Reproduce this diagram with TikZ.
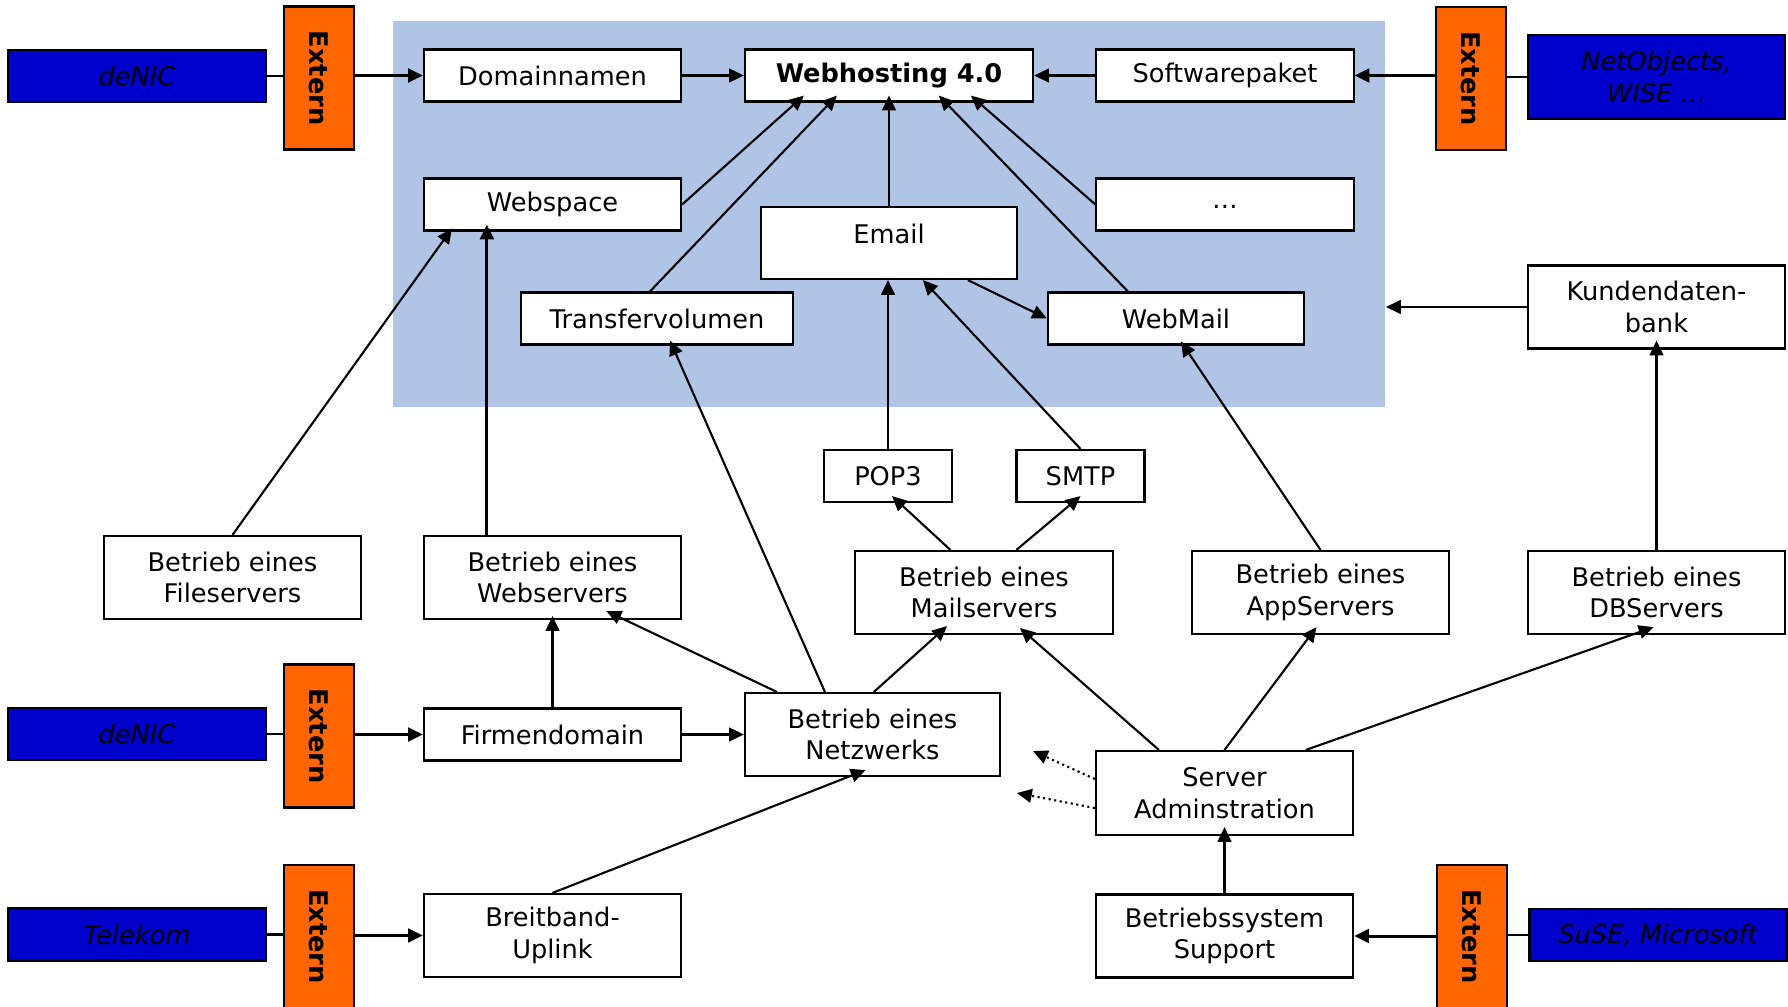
\documentclass[tikz,border=0pt]{standalone}
\usepackage{fontspec}
\setmainfont{DejaVu Sans}
\usetikzlibrary{arrows.meta,calc}
\definecolor{areablue}{RGB}{176,197,229}
\definecolor{extorange}{RGB}{255,102,0}
\definecolor{supblue}{RGB}{0,0,204}

\begin{document}
\begin{tikzpicture}[x=0.01cm,y=-0.01cm,>={Triangle[length=4.2pt,width=3.9pt]},
  box/.style={draw,fill=white,line width=0.6pt,inner sep=0pt,align=center,
    minimum width=2.57cm,minimum height=0.52cm,font=\fontsize{7.3}{9}\selectfont},
  tallbox/.style={box,minimum height=0.83cm},
  extbox/.style={draw,fill=extorange,line width=0.6pt,inner sep=0pt,
    minimum width=0.70cm,minimum height=1.43cm,font=\fontsize{7.3}{9}\selectfont\bfseries},
  supbox/.style={box,fill=supblue,font=\fontsize{7.3}{9}\selectfont\itshape},
  conn/.style={->,line width=0.6pt},
  heavy/.style={->,line width=0.85pt}]
  \useasboundingbox (0,0) rectangle (1788,1006);
  % shaded product area
  \node[fill=areablue,inner sep=0pt,minimum width=9.92cm,minimum height=3.86cm] (area) at (889,214) {};
  % top row
  \node[supbox] (denicA) at (137,76) {deNIC};
  \node[extbox] (extA) at (319,78) {\rotatebox{-90}{Extern}};
  \node[box] (domain) at (552.5,75.5) {Domainnamen};
  \node[box,minimum width=2.88cm,font=\fontsize{7.3}{9}\selectfont\bfseries] (wh) at (889,75.5) {Webhosting 4.0};
  \node[box] (soft) at (1225,75.5) {Softwarepaket};
  \node[extbox] (extB) at (1471,78.5) {\rotatebox{-90}{Extern}};
  \node[supbox,minimum height=0.84cm] (netobj) at (1656.5,77) {NetObjects,\\WISE \dots};
  % inside the area
  \node[box] (webspace) at (552.5,204.5) {Webspace};
  \node[box] (more) at (1225,204.5) {\raisebox{-2pt}{\dots}};
  \node[box,minimum width=2.56cm,minimum height=0.72cm] (email) at (889,243) {\raisebox{5pt}{Email}};
  \node[box,minimum width=2.72cm] (transfer) at (657,318.5) {Transfervolumen};
  \node[box,minimum width=2.56cm] (webmail) at (1176,318.5) {WebMail};
  \node[tallbox] (kunden) at (1656.5,307) {Kundendaten-\\bank};
  % protocols
  \node[box,minimum width=1.28cm] (pop) at (888,476) {POP3};
  \node[box,minimum width=1.28cm] (smtp) at (1080.5,476) {SMTP};
  % server operation
  \node[tallbox] (filesrv) at (232.5,577.5) {Betrieb eines\\Fileservers};
  \node[tallbox] (websrv) at (552.5,577.5) {Betrieb eines\\Webservers};
  \node[tallbox] (mailsrv) at (984,592.5) {Betrieb eines\\Mailservers};
  \node[tallbox] (appsrv) at (1320.5,592.5) {Betrieb eines\\AppServers};
  \node[tallbox] (dbsrv) at (1656.5,592.5) {Betrieb eines\\DBServers};
  % network
  \node[supbox] (denicB) at (137,734) {deNIC};
  \node[extbox] (extC) at (319,736) {\rotatebox{-90}{Extern}};
  \node[box] (firm) at (552.5,734.5) {Firmendomain};
  \node[tallbox,minimum width=2.55cm] (netz) at (872.5,734.5) {Betrieb eines\\Netzwerks};
  \node[tallbox,minimum height=0.84cm] (srvadm) at (1224.5,793) {Server\\Adminstration};
  % bottom row
  \node[supbox] (telekom) at (137,934.5) {Telekom};
  \node[extbox] (extD) at (319,936.5) {\rotatebox{-90}{Extern}};
  \node[tallbox] (breit) at (552.5,935.5) {Breitband-\\Uplink};
  \node[tallbox] (bss) at (1224.5,936) {Betriebssystem\\Support};
  \node[extbox] (extE) at (1472,936.5) {\rotatebox{-90}{Extern}};
  \node[supbox] (suse) at (1658,935) {SuSE, Microsoft};
  \coordinate (dotA) at (1033,751);
  \coordinate (dotB) at (1017,793);

  % external suppliers
  \draw[line width=0.6pt] (denicA.east) -- (extA.west |- denicA.east);
  \draw[heavy] (extA.east |- domain.west) -- (domain.west);
  \draw[line width=0.6pt] (netobj.west) -- (extB.east |- netobj.west);
  \draw[heavy] (extB.west |- soft.east) -- (soft.east);
  \draw[line width=0.6pt] (denicB.east) -- (extC.west |- denicB.east);
  \draw[heavy] (extC.east |- firm.west) -- (firm.west);
  \draw[line width=0.6pt] (telekom.east) -- (extD.west |- telekom.east);
  \draw[heavy] (extD.east |- breit.west) -- (breit.west);
  \draw[line width=0.6pt] (suse.west) -- (extE.east |- suse.west);
  \draw[heavy] (extE.west |- bss.east) -- (bss.east);

  % into Webhosting 4.0
  \draw[conn] (domain.east) -- (wh.west);
  \draw[conn] (soft.west) -- (wh.east);
  \draw[conn] (webspace.east) -- ($(wh.south west)+(60,-7)$);
  \draw[conn] ($(transfer.north)+(-7,0)$) -- ($(wh.south west)+(93,-7)$);
  \draw[conn] (email.north) -- ($(wh.south)+(0,-7)$);
  \draw[conn] ($(webmail.north west)+(81,0)$) -- ($(wh.south west)+(195,-7)$);
  \draw[conn] (more.west) -- ($(wh.south west)+(227,-7)$);

  % mail
  \draw[conn] (pop.north) -- (pop.north |- email.south);
  \draw[conn] (smtp.north) -- ($(email.south west)+(163,0)$);
  \draw[conn] ($(email.south west)+(208,0)$) -- (webmail.west);
  \draw[conn] ($(mailsrv.north west)+(96,0)$) -- ($(pop.south)+(4,-7)$);
  \draw[conn] ($(mailsrv.north west)+(162,0)$) -- ($(smtp.south)+(0,-7)$);

  % servers
  \draw[conn] (kunden.west) -- (area.east |- kunden.west);
  \draw[conn] (dbsrv.north) -- ($(kunden.south)+(0,-9)$);
  \draw[conn] (appsrv.north) -- ($(webmail.south)+(5,-4)$);
  \draw[conn] (filesrv.north) -- ($(webspace.south west)+(29,-3)$);
  \draw[heavy] ($(websrv.north west)+(64,0)$) -- ($(webspace.south west)+(64,-7)$);

  % network
  \draw[conn] (firm.north) -- ($(websrv.south)+(0,-4)$);
  \draw[conn] (firm.east) -- (netz.west);
  \draw[conn] ($(netz.north west)+(33,0)$) -- ($(websrv.south)+(54,-9)$);
  \draw[conn] ($(netz.north west)+(81,0)$) -- ($(transfer.south)+(13,-5)$);
  \draw[conn] ($(netz.north west)+(130,0)$) -- ($(mailsrv.south)+(-37,-9)$);
  \draw[conn] (breit.north) -- ($(netz.south)+(-7,-7)$);

  % administration
  \draw[conn] ($(srvadm.north west)+(64,0)$) -- ($(mailsrv.south)+(36,-7)$);
  \draw[conn] (srvadm.north) -- ($(appsrv.south)+(-4,-8)$);
  \draw[conn] ($(srvadm.north west)+(211,0)$) -- ($(dbsrv.south)+(-3,-8)$);
  \draw[conn] (bss.north) -- ($(srvadm.south)+(0,-9)$);
  \draw[conn,densely dotted] ($(srvadm.west)+(0,-14)$) -- (dotA);
  \draw[conn,densely dotted] ($(srvadm.west)+(0,15)$) -- (dotB);
\end{tikzpicture}
\end{document}
